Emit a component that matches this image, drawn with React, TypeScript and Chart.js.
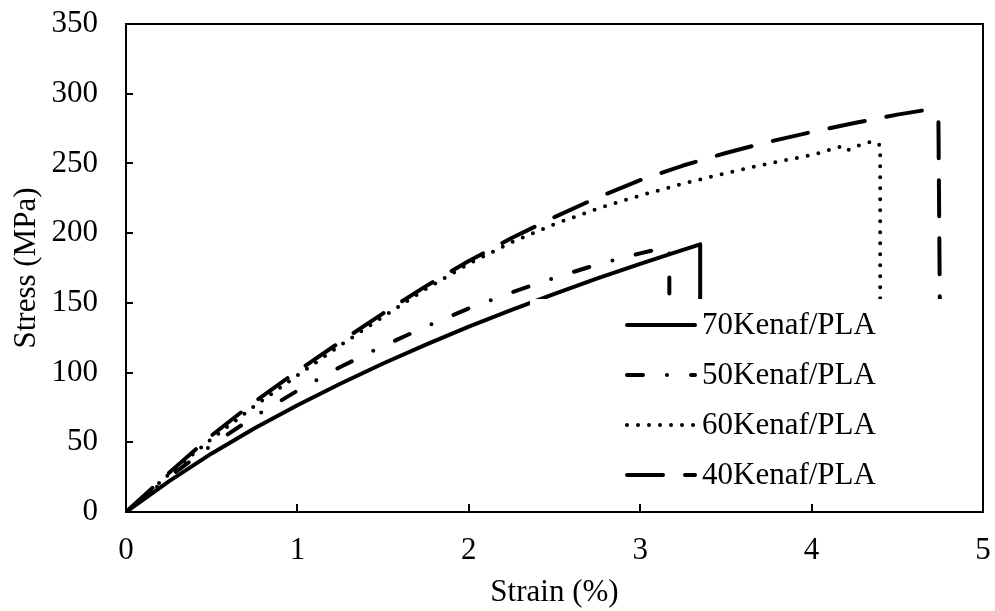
import { useEffect, useRef } from "react";
import { Chart, registerables } from "chart.js";

Chart.register(...registerables);

const FONT = "'Liberation Serif', 'Times New Roman', Times, serif";

const seriesLabels = ["70Kenaf/PLA", "50Kenaf/PLA", "60Kenaf/PLA", "40Kenaf/PLA"];

const strain70 = [0, 0.25, 0.5, 0.75, 1, 1.25, 1.5, 1.75, 2, 2.25, 2.5, 2.75, 3, 3.2, 3.35, 3.35];
const stress70 = [0, 22, 42, 60, 76.5, 92, 106.5, 120, 133, 145, 156.5, 167.5, 178, 186, 192, 120];

const strain50 = [0, 0.25, 0.5, 0.75, 1, 1.25, 1.5, 1.75, 2, 2.25, 2.5, 2.75, 3, 3.15, 3.17, 3.17];
const stress50 = [0, 25, 48, 68.5, 87, 104, 119, 133, 146, 157.5, 168, 177.5, 185.5, 190, 189, 120];

const strain60 = [0, 0.25, 0.5, 0.75, 1, 1.25, 1.5, 1.75, 2, 2.25, 2.5, 2.75, 3, 3.25, 3.5, 3.75, 4, 4.17, 4.2, 4.3, 4.36, 4.4, 4.4];
const stress60 = [0, 27, 52.5, 76, 98, 119.5, 140, 160, 178, 193.5, 206.5, 217.5, 227, 235.5, 243, 250, 256, 262, 259, 264, 266, 263, 120];

const strain40 = [0, 0.25, 0.5, 0.75, 1, 1.25, 1.5, 1.75, 2, 2.25, 2.5, 2.75, 3, 3.25, 3.5, 3.75, 4, 4.25, 4.5, 4.65, 4.68, 4.72, 4.74, 4.75];
const stress40 = [0, 28, 55, 79, 101, 122, 142.5, 162, 180, 196.5, 211.5, 225.5, 238, 248.5, 257.5, 265.5, 272.5, 279, 285, 288, 287, 282, 281, 120];

const xTicks = [0, 1, 2, 3, 4, 5];
const yTicks = [0, 50, 100, 150, 200, 250, 300, 350];

const dashes: number[][] = [[], [16, 24, 0, 24], [0, 11], [36, 22]];

const toPts = (xs: number[], ys: number[]) => xs.map((x, i) => ({ x, y: ys[i] }));

const frameTicks = {
  id: "frameTicks",
  afterDraw(chart: any) {
    const { ctx, chartArea } = chart;
    const xs = chart.scales.x;
    const ys = chart.scales.y;
    ctx.save();
    ctx.strokeStyle = "#000";
    ctx.lineWidth = 2;
    ctx.setLineDash([]);
    ctx.strokeRect(chartArea.left, chartArea.top, chartArea.right - chartArea.left, chartArea.bottom - chartArea.top);
    ctx.beginPath();
    xTicks.forEach((v) => {
      const px = Math.round(xs.getPixelForValue(v));
      ctx.moveTo(px, chartArea.bottom);
      ctx.lineTo(px, chartArea.bottom - 8);
    });
    yTicks.forEach((v) => {
      const py = Math.round(ys.getPixelForValue(v));
      ctx.moveTo(chartArea.left, py);
      ctx.lineTo(chartArea.left + 7, py);
    });
    ctx.stroke();
    ctx.restore();
  },
};

const insideLegend = {
  id: "insideLegend",
  afterDatasetsDraw(chart: any) {
    const { ctx, chartArea } = chart;
    ctx.save();
    ctx.fillStyle = "#fff";
    const boxLeft = 530;
    const boxTop = 299;
    ctx.fillRect(boxLeft, boxTop, chartArea.right - boxLeft - 1, chartArea.bottom - 9 - boxTop);
    chart.data.datasets.forEach((ds: any, i: number) => {
      const y = 325 + i * 50;
      ctx.strokeStyle = "#000";
      ctx.lineWidth = 4;
      ctx.lineCap = "round";
      ctx.setLineDash(ds.borderDash || []);
      ctx.beginPath();
      ctx.moveTo(627, y);
      ctx.lineTo(695, y);
      ctx.stroke();
      ctx.setLineDash([]);
      ctx.fillStyle = "#000";
      ctx.font = `31px ${FONT}`;
      ctx.textBaseline = "middle";
      ctx.textAlign = "left";
      ctx.fillText(ds.label, 702, y + 1);
    });
    ctx.restore();
  },
};

export default function App() {
  const ref = useRef<HTMLCanvasElement | null>(null);
  useEffect(() => {
    if (!ref.current) return;
    const series = [
      toPts(strain70, stress70),
      toPts(strain50, stress50),
      toPts(strain60, stress60),
      toPts(strain40, stress40),
    ];
    const chart = new Chart(ref.current, {
      type: "line",
      data: {
        datasets: series.map((d, i) => ({
          label: seriesLabels[i],
          data: d,
          borderColor: "#000",
          backgroundColor: "#000",
          borderWidth: 4,
          borderDash: dashes[i],
          borderCapStyle: "round",
          borderJoinStyle: "round",
          pointRadius: 0,
          tension: 0,
          fill: false,
        })),
      },
      options: {
        animation: false,
        responsive: false,
        devicePixelRatio: 1,
        layout: { padding: { left: 0, right: 12, top: 24, bottom: 0 } },
        plugins: { legend: { display: false }, tooltip: { enabled: false } },
        scales: {
          x: {
            type: "linear",
            min: 0,
            max: 5,
            afterBuildTicks: (s: any) => {
              s.ticks = xTicks.map((v) => ({ value: v }));
            },
            ticks: { color: "#000", padding: 20, font: { family: FONT, size: 31 } },
            grid: { display: false, drawTicks: false },
            border: { display: false },
            title: {
              display: true,
              text: "Strain (%)",
              color: "#000",
              font: { family: FONT, size: 31 },
              padding: { top: 0, bottom: 0 },
            },
            afterFit: (s: any) => {
              s.height = 99;
              s.paddingLeft = 0;
              s.paddingRight = 0;
            },
          },
          y: {
            type: "linear",
            min: 0,
            max: 350,
            afterBuildTicks: (s: any) => {
              s.ticks = yTicks.map((v) => ({ value: v }));
            },
            ticks: { color: "#000", padding: 28, font: { family: FONT, size: 31 } },
            grid: { display: false, drawTicks: false },
            border: { display: false },
            title: {
              display: true,
              text: "Stress (MPa)",
              color: "#000",
              font: { family: FONT, size: 31 },
              padding: { top: 8, bottom: 0 },
            },
            afterFit: (s: any) => {
              s.width = 126;
              s.paddingTop = 0;
              s.paddingBottom = 0;
            },
          },
        },
      },
      plugins: [insideLegend, frameTicks],
    } as any);
    return () => chart.destroy();
  }, []);
  return (
    <div style={{ position: "absolute", left: 0, top: 0, width: 995, height: 611, background: "#fff" }}>
      <canvas ref={ref} width={995} height={611} style={{ width: 995, height: 611, display: "block" }} />
    </div>
  );
}
